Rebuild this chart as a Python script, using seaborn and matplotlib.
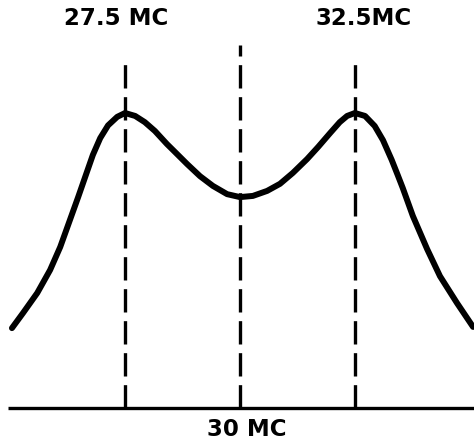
import numpy as np
import pandas as pd
import seaborn as sns
import matplotlib.pyplot as plt

# response curve (frequency in MC, relative response)
freq = [25.04, 25.28, 25.59, 25.87, 26.09, 26.30, 26.48, 26.67, 26.80, 26.96,
        27.13, 27.33, 27.5, 27.72, 27.93, 28.15, 28.41, 28.54, 28.85, 29.13,
        29.41, 29.72, 30.0, 30.28, 30.59, 30.87, 31.15, 31.46, 31.70, 31.96,
        32.17, 32.33, 32.5, 32.72, 32.93, 33.11, 33.30, 33.43, 33.54, 33.76,
        34.07, 34.35, 34.72, 35.07]
response = [0.271, 0.322, 0.390, 0.468, 0.546, 0.637, 0.715, 0.800, 0.858, 0.915,
            0.958, 0.987, 1.0, 0.990, 0.969, 0.939, 0.895, 0.875, 0.827, 0.786,
            0.753, 0.725, 0.715, 0.719, 0.736, 0.760, 0.797, 0.844, 0.885, 0.932,
            0.969, 0.990, 1.0, 0.990, 0.956, 0.908, 0.841, 0.790, 0.746, 0.651,
            0.539, 0.447, 0.356, 0.275]

marker_freq = [27.5, 30.0, 32.5]
marker_top = [1.18, 1.23, 1.19]
top_labels = ["27.5 MC", "32.5MC"]
bottom_label = "30 MC"

sns.set_theme(style="white")
plt.rcParams["font.family"] = ["DejaVu Sans"]

fig = plt.figure(figsize=(4.74, 4.42), dpi=100)
ax = fig.add_axes([0, 0, 1, 1])

df = pd.DataFrame({"freq": freq, "response": response})
sns.lineplot(data=df, x="freq", y="response", color="black", linewidth=4.3,
             sort=False, solid_joinstyle="round", solid_capstyle="round", ax=ax)

# baseline
ax.plot([24.96, 35.1], [0, 0], color="black", linewidth=2.4, solid_capstyle="butt")

# dashed markers
for f, top in zip(marker_freq, marker_top):
    ax.plot([f, f], [0, top], color="black", linewidth=2.4,
            dashes=(7, 2.6), dash_capstyle="butt")

label_style = dict(ha="center", va="center", fontsize=16.5, fontweight="bold",
                   color="black")
ax.text(27.31, 1.32, top_labels[0], **label_style)
ax.text(32.68, 1.32, top_labels[1], **label_style)
ax.text(30.14, -0.072, bottom_label, **label_style)

ax.set_xlim(24.78, 35.09)
ax.set_ylim(-0.115, 1.383)
ax.axis("off")

fig.savefig("out.png", dpi=100)
